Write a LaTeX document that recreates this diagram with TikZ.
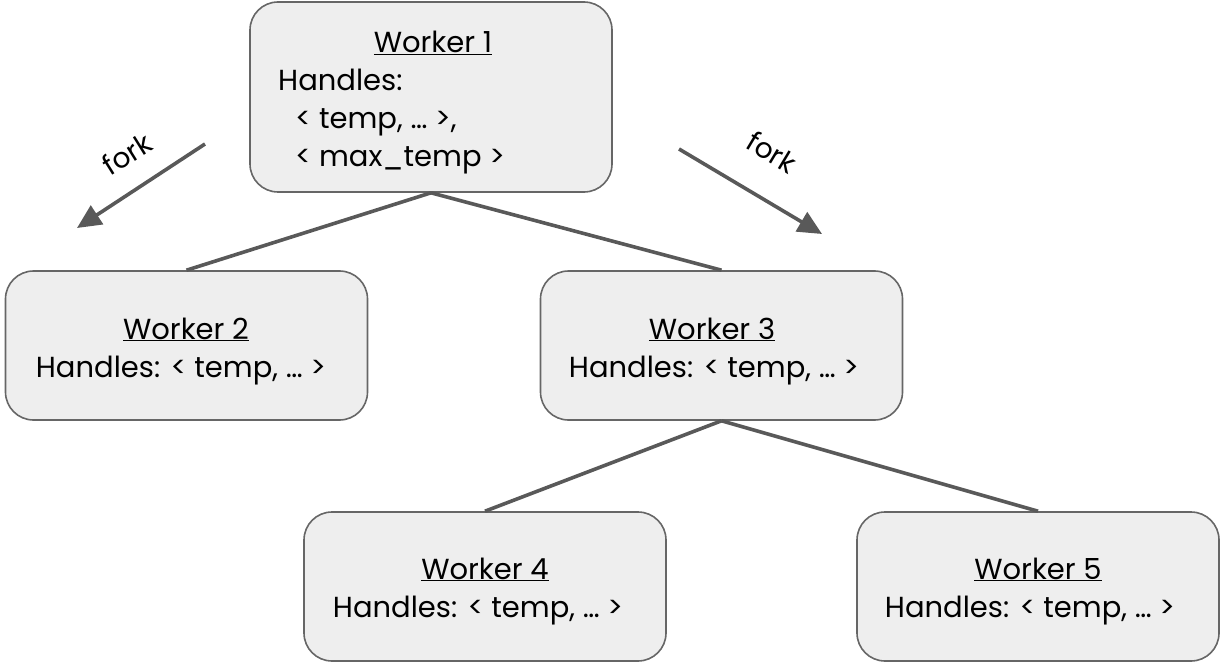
\documentclass[tikz,border=0pt]{standalone}
\usepackage{fontspec}
\setmainfont{Poppins}
\usetikzlibrary{arrows.meta}
\definecolor{boxfill}{HTML}{EEEEEE}
\definecolor{boxline}{HTML}{666666}
\definecolor{linkcol}{HTML}{595959}
\tikzset{
  worker/.style={draw=boxline, line width=1.6pt, fill=boxfill, rounded corners=28pt,
    minimum width=362pt, inner sep=0pt},
  txt/.style={font=\fontsize{29}{34}\selectfont, inner sep=0pt, text=black},
  link/.style={draw=linkcol, line width=3.6pt},
  forkarrow/.style={link, -{Triangle[length=24pt,width=22pt]}},
  forklabel/.style={font=\fontsize{28}{32}\selectfont, inner sep=0pt, text=black},
}
\newcommand{\wtitle}[1]{\underline{#1}}
\begin{document}
\begin{tikzpicture}[x=1pt,y=-1pt]
\useasboundingbox (0,0) rectangle (1223,663);
% worker boxes
\node[worker, minimum height=190pt] (w1) at (431,97) {};
\node[worker, minimum height=149pt] (w2) at (186.5,345.5) {};
\node[worker, minimum height=149pt] (w3) at (721.5,345.5) {};
\node[worker, minimum height=149pt] (w4) at (485,586.5) {};
\node[worker, minimum height=149pt] (w5) at (1038,586.5) {};
% tree links
\draw[link] (w1.south) -- (w2.north);
\draw[link] (w1.south) -- (w3.north);
\draw[link] (w3.south) -- (w4.north);
\draw[link] (w3.south) -- (w5.north);
% box texts
\node[txt, anchor=base] (t1) at (433,53) {\wtitle{Worker 1}};
\node[txt, anchor=base west] (h1a) at (278,91) {Handles:};
\node[txt, anchor=base west] (h1b) at (295,129) {< temp, … >,};
\node[txt, anchor=base west] (h1c) at (295,167) {< max\_temp >};
\node[txt, anchor=base] (t2) at (186,339) {\wtitle{Worker 2}};
\node[txt, anchor=base] (h2) at (181,377) {Handles: < temp, … >};
\node[txt, anchor=base] (t3) at (712,339) {\wtitle{Worker 3}};
\node[txt, anchor=base] (h3) at (714,377) {Handles: < temp, … >};
\node[txt, anchor=base] (t4) at (485,579) {\wtitle{Worker 4}};
\node[txt, anchor=base] (h4) at (478,617) {Handles: < temp, … >};
\node[txt, anchor=base] (t5) at (1038,579) {\wtitle{Worker 5}};
\node[txt, anchor=base] (h5) at (1030,617) {Handles: < temp, … >};
% fork arrows
\coordinate (fl0) at (205,144);
\coordinate (fl1) at (77,228);
\coordinate (fr0) at (679,149);
\coordinate (fr1) at (822,234);
\draw[forkarrow] (fl0) -- (fl1);
\draw[forkarrow] (fr0) -- (fr1);
\node[forklabel, rotate=32] (fkl) at (127,154) {fork};
\node[forklabel, rotate=-31] (fkr) at (772,152) {fork};
\end{tikzpicture}
\end{document}
